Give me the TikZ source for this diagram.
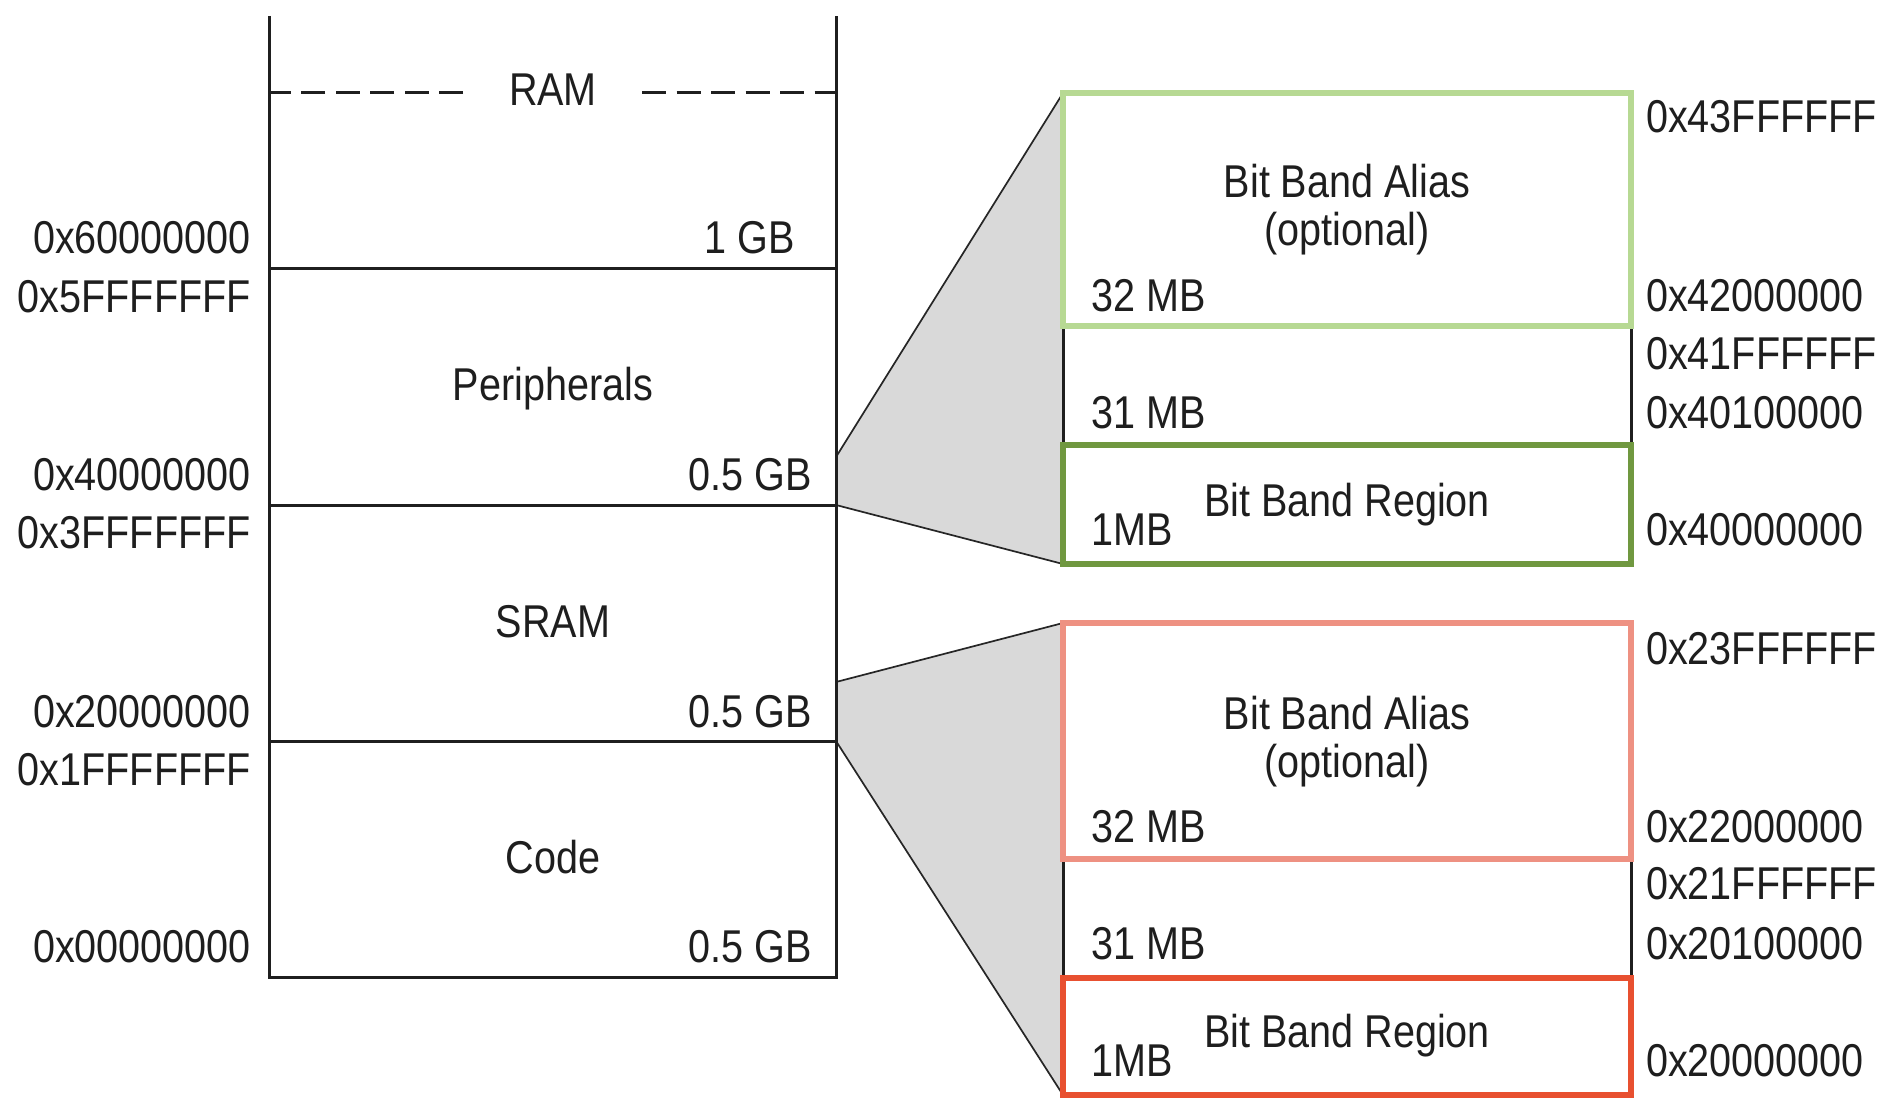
\documentclass[tikz,border=0pt]{standalone}
\usepackage{fontspec}
\setmainfont[FakeStretch=0.86]{Liberation Sans}
\definecolor{txt}{HTML}{1E1E1E}
\definecolor{lgreen}{HTML}{B7D993}
\definecolor{dgreen}{HTML}{709840}
\definecolor{salmon}{HTML}{EE9182}
\definecolor{redbox}{HTML}{E85030}
\definecolor{zoomgray}{HTML}{D9D9D9}
\begin{document}
\begin{tikzpicture}[x=1pt,y=-1pt,
  every node/.style={inner sep=0pt, text=txt, font=\fontsize{46}{52}\selectfont},
  colline/.style={line width=3pt, draw=black!88, line cap=butt},
  slantline/.style={line width=1.7pt, draw=black!85},
  cbox/.style={line width=5.5pt, fill=white},
  labr/.style={anchor=base west},
  labl/.style={anchor=base east},
  labc/.style={anchor=base}]
\useasboundingbox (0,0) rectangle (1896,1110);
\fill[white] (0,0) rectangle (1896,1110);

% ---- zoom trapezoids
\coordinate (uA) at (836,457);
\coordinate (uB) at (1063,93);
\coordinate (uC) at (1063,564);
\coordinate (uD) at (836,505);
\coordinate (lA) at (836,682);
\coordinate (lB) at (1063,623);
\coordinate (lC) at (1063,1095);
\coordinate (lD) at (836,741);
\fill[zoomgray] (uA) -- (uB) -- (uC) -- (uD) -- cycle;
\fill[zoomgray] (lA) -- (lB) -- (lC) -- (lD) -- cycle;
\draw[slantline] (uA) -- (uB);
\draw[slantline] (uD) -- (uC);
\draw[slantline] (lA) -- (lB);
\draw[slantline] (lD) -- (lC);

% ---- memory column
\draw[colline] (269,16) -- (269,977) -- (836,977) -- (836,16);
\draw[colline] (269,269) -- (836,269);
\draw[colline] (269,505) -- (836,505);
\draw[colline] (269,741) -- (836,741);
\draw[colline, dash pattern=on 24pt off 10.5pt] (463,93) -- (269,93);
\draw[colline, dash pattern=on 24pt off 10.5pt] (642,93) -- (836,93);

\node[labc] (ram) at (553,106) {RAM};
\node[labl] (gb1) at (795,254) {1 GB};
\node[labc] (per) at (553,400) {Peripherals};
\node[labl] (gbp) at (812,490) {0.5 GB};
\node[labc] (sram) at (553,637) {SRAM};
\node[labl] (gbs) at (812,727) {0.5 GB};
\node[labc] (code) at (553,873) {Code};
\node[labl] (gbc) at (812,962) {0.5 GB};

\node[labl] (a6) at (251,254) {0x60000000};
\node[labl] (a5) at (251,312) {0x5FFFFFFF};
\node[labl] (a4) at (251,490) {0x40000000};
\node[labl] (a3) at (251,548) {0x3FFFFFFF};
\node[labl] (a2) at (251,727) {0x20000000};
\node[labl] (a1) at (251,785) {0x1FFFFFFF};
\node[labl] (a0) at (251,962) {0x00000000};

% ---- upper bit band
\draw[colline] (1063,326) -- (1063,445);
\draw[colline] (1631,326) -- (1631,445);
\draw[cbox, draw=lgreen] (1063,93) rectangle (1631,326);
\draw[cbox, draw=dgreen] (1063,445) rectangle (1631,564);

\node[labc] (ua1) at (1347,198) {Bit Band Alias};
\node[labc] (ua2) at (1347,246) {(optional)};
\node[labr] (u32) at (1091,311) {32 MB};
\node[labr] (u31) at (1091,428) {31 MB};
\node[labc] (ubr) at (1347,516) {Bit Band Region};
\node[labr] (u1) at (1091,545) {1MB};

\node[labr] (r43) at (1646,133) {0x43FFFFFF};
\node[labr] (r42) at (1646,311) {0x42000000};
\node[labr] (r41) at (1646,369) {0x41FFFFFF};
\node[labr] (r401) at (1646,428) {0x40100000};
\node[labr] (r40) at (1646,545) {0x40000000};

% ---- lower bit band
\draw[colline] (1063,859) -- (1063,978);
\draw[colline] (1631,859) -- (1631,978);
\draw[cbox, draw=salmon] (1063,623) rectangle (1631,859);
\draw[cbox, draw=redbox] (1063,978) rectangle (1631,1095);

\node[labc] (la1) at (1347,729) {Bit Band Alias};
\node[labc] (la2) at (1347,777) {(optional)};
\node[labr] (l32) at (1091,842) {32 MB};
\node[labr] (l31) at (1091,959) {31 MB};
\node[labc] (lbr) at (1347,1047) {Bit Band Region};
\node[labr] (l1) at (1091,1076) {1MB};

\node[labr] (r23) at (1646,664) {0x23FFFFFF};
\node[labr] (r22) at (1646,842) {0x22000000};
\node[labr] (r21) at (1646,899) {0x21FFFFFF};
\node[labr] (r201) at (1646,959) {0x20100000};
\node[labr] (r20) at (1646,1076) {0x20000000};
\end{tikzpicture}
\end{document}
